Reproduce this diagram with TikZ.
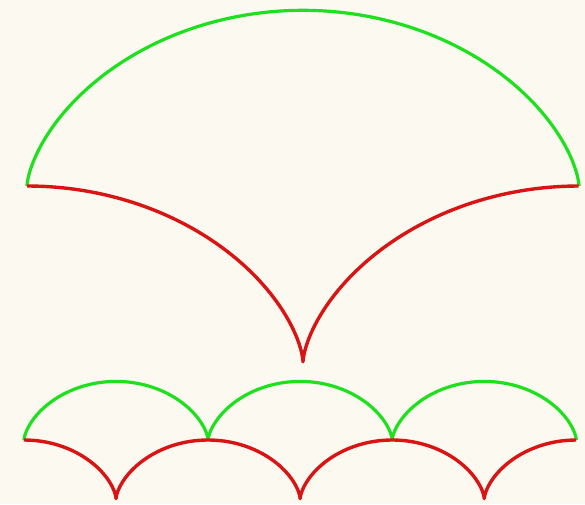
\documentclass[tikz,border=0pt]{standalone}
\usepackage{xcolor}
\usepackage{tikz}

\definecolor{paper}{HTML}{FCF9F0}
\definecolor{archgreen}{HTML}{1EE01E}
\definecolor{evored}{HTML}{D81414}

\begin{document}
\begin{tikzpicture}[
    x=1pt, y=-1pt,
    cycloid/.style={draw=archgreen, line width=3.2pt, line join=round},
    evolute/.style={draw=evored, line width=3.4pt, line join=round}
]
    % background and page size
    \fill [paper] (0,0) rectangle (585,504);
    \useasboundingbox (0,0) rectangle (585,504);

    % large arch and its evolute
    \def\rbig{87.85}
    \draw [cycloid] plot [domain=0:2*pi, samples=160, smooth]
        ({27+\rbig*(\x-sin(\x r))}, {186-\rbig*(1-cos(\x r))});
    \draw [evolute] plot [domain=-pi:pi, samples=160, smooth]
        ({303+\rbig*(\x-sin(\x r))}, {186+2*\rbig-\rbig*(1-cos(\x r))});

    % row of small arches
    \def\rsmall{29.3}
    \foreach \k in {0,1,2} {
        \draw [cycloid] plot [domain=0:2*pi, samples=80, smooth]
            ({24+2*pi*\rsmall*\k+\rsmall*(\x-sin(\x r))}, {440-\rsmall*(1-cos(\x r))});
    }
    \draw [evolute] plot [domain=-pi:5*pi, samples=240, smooth]
        ({24+pi*\rsmall+\rsmall*(\x-sin(\x r))}, {440+2*\rsmall-\rsmall*(1-cos(\x r))});
\end{tikzpicture}
\end{document}
